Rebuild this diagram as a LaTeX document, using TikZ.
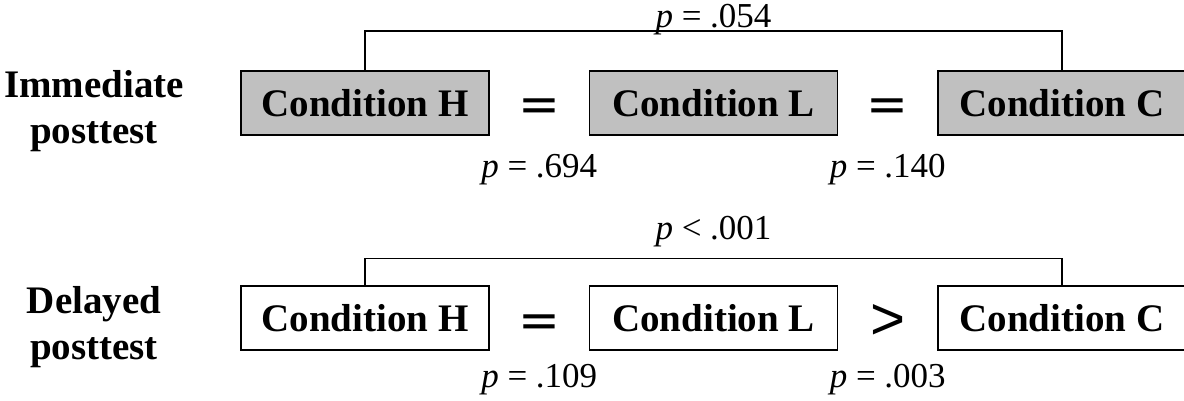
\documentclass[tikz,border=0pt]{standalone}
\usepackage{fontspec}
\setmainfont{Liberation Serif}
\newfontfamily\relfont{Liberation Sans}
\newfontfamily\eqfont{DejaVu Sans}
\usepackage{xcolor}
\usetikzlibrary{positioning, calc}
\definecolor{boxgray}{RGB}{192,192,192}

\begin{document}
\begin{tikzpicture}[x=1pt, y=-1pt,
    cond/.style={draw, line width=1.5pt, minimum width=248pt, minimum height=64pt,
      inner sep=0pt, font=\bfseries\fontsize{39}{46}\selectfont},
    shaded/.style={fill=boxgray},
    pval/.style={anchor=base, inner sep=0pt, font=\fontsize{35}{40}\selectfont},
    rel/.style={anchor=base, inner sep=0pt, font=\relfont\fontsize{60}{66}\selectfont},
    eqsign/.style={anchor=base, inner sep=0pt, font=\eqfont\fontsize{50}{56}\selectfont},
    rowlab/.style={align=center, inner sep=0pt, font=\bfseries\fontsize{39}{46}\selectfont},
    link/.style={line width=1.5pt}]
    \useasboundingbox (0,0) rectangle (1184,401);

    % immediate posttest
    \node[rowlab] (imm) at (94,111) {Immediate\\posttest};
    \node[cond, shaded] (h1) at (365,103) {Condition H};
    \node[cond, shaded, right=99pt of h1] (l1) {Condition L};
    \node[cond, shaded, right=99pt of l1] (c1) {Condition C};
    \node[eqsign] (e1) at ($(h1.east)!.5!(l1.west)+(0,19)$) {=};
    \node[eqsign] (e2) at ($(l1.east)!.5!(c1.west)+(0,19)$) {=};
    \path (h1.north) ++(0,-39) coordinate (b1);
    \draw[link] (h1.north) -- (b1) -| (c1.north);
    \node[pval] (p1) at ($(b1)!.5!(b1 -| c1.north)+(0,-4)$) {\textit{p} = .054};
    \node[pval] (p2) at (e1.center |- 0,178) {\textit{p} = .694};
    \node[pval] (p3) at (e2.center |- 0,178) {\textit{p} = .140};

    % delayed posttest
    \node[rowlab] (del) at (94,327) {Delayed\\posttest};
    \node[cond] (h2) at (365,318) {Condition H};
    \node[cond, right=99pt of h2] (l2) {Condition L};
    \node[cond, right=99pt of l2] (c2) {Condition C};
    \node[eqsign] (e3) at ($(h2.east)!.5!(l2.west)+(0,19)$) {=};
    \node[rel] (g1) at ($(l2.east)!.5!(c2.west)+(0,21)$) {>};
    \path (h2.north) ++(0,-27) coordinate (b2);
    \draw[link] (h2.north) -- (b2) -| (c2.north);
    \node[pval] (p4) at ($(b2)!.5!(b2 -| c2.north)+(0,-19)$) {\textit{p} < .001};
    \node[pval] (p5) at (e3.center |- 0,387) {\textit{p} = .109};
    \node[pval] (p6) at (g1.center |- 0,387) {\textit{p} = .003};
\end{tikzpicture}
\end{document}
